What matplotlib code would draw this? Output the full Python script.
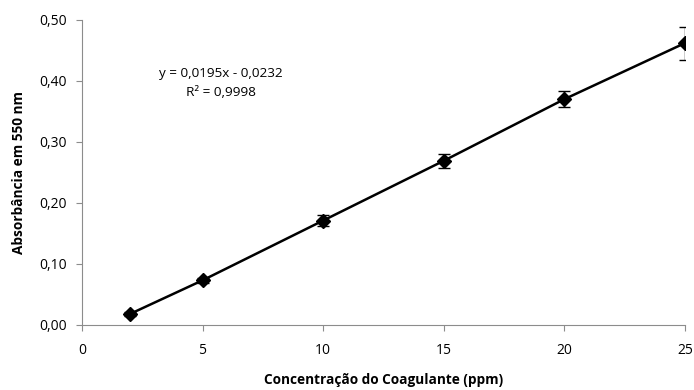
import matplotlib
matplotlib.use('Agg')
import matplotlib.pyplot as plt
from matplotlib.ticker import FuncFormatter

conc = [2, 5, 10, 15, 20, 25]
absorb = [0.018, 0.073, 0.171, 0.269, 0.370, 0.462]
err = [0.003, 0.004, 0.009, 0.011, 0.013, 0.027]

plt.rcParams['font.family'] = ['Open Sans', 'DejaVu Sans']

fig = plt.figure(figsize=(6.94, 3.9), dpi=100)
ax = fig.add_axes([0.118, 0.167, 0.869, 0.782])

ax.plot(conc, absorb, color='black', lw=1.8, zorder=2)
ax.errorbar(conc, absorb, yerr=err, fmt='D', color='black', ms=7,
            ecolor='black', elinewidth=1, capsize=4, capthick=1, zorder=3)

ax.set_xlim(0, 25)
ax.set_ylim(0, 0.5)
ax.set_xticks(range(0, 26, 5))
ax.set_yticks([0, 0.1, 0.2, 0.3, 0.4, 0.5])
ax.yaxis.set_major_formatter(FuncFormatter(lambda v, p: ('%.2f' % v).replace('.', ',')))

for s in ['top', 'right']:
    ax.spines[s].set_visible(False)
for s in ['left', 'bottom']:
    ax.spines[s].set_color('#8c8c8c')
ax.tick_params(colors='#8c8c8c', labelcolor='black', labelsize=10, length=4, pad=7)
ax.tick_params(axis='x', pad=9)

ax.set_xlabel('Concentração do Coagulante (ppm)', fontsize=9.8, fontweight='bold', labelpad=11)
ax.set_ylabel('Absorbância em 550 nm', fontsize=9.8, fontweight='bold', labelpad=9)

ax.text(5.75, 0.396, 'y = 0,0195x - 0,0232\nR² = 0,9998', ha='center', va='center',
        fontsize=9.7, linespacing=1.6)

plt.savefig('out.png', dpi=100)
